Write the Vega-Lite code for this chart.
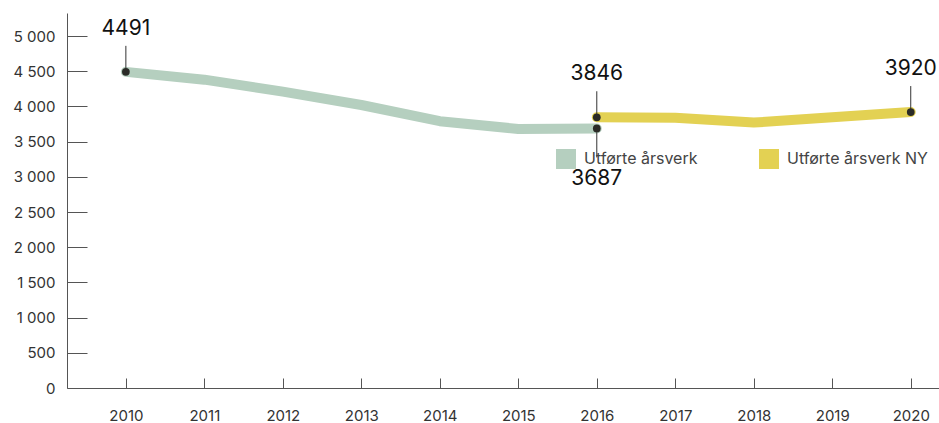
{
  "$schema": "https://vega.github.io/schema/vega-lite/v6.json",
  "width": 872,
  "height": 375,
  "autosize": {"type": "none"},
  "padding": {"left": 67, "top": 13, "right": 0, "bottom": 35},
  "background": "white",
  "config": {
    "view": {"stroke": null},
    "font": "Inter",
    "axis": {"grid": false, "domainColor": "#555", "tickColor": "#555", "labelColor": "#333", "labelFont": "Inter", "labelFontSize": 15, "title": null}
  },
  "datasets": {
    "series": [
      {"year": 2010, "value": 4491, "serie": "Utførte årsverk"},
      {"year": 2011, "value": 4380, "serie": "Utførte årsverk"},
      {"year": 2012, "value": 4210, "serie": "Utførte årsverk"},
      {"year": 2013, "value": 4020, "serie": "Utførte årsverk"},
      {"year": 2014, "value": 3790, "serie": "Utførte årsverk"},
      {"year": 2015, "value": 3680, "serie": "Utførte årsverk"},
      {"year": 2016, "value": 3687, "serie": "Utførte årsverk"},
      {"year": 2016, "value": 3846, "serie": "Utførte årsverk NY"},
      {"year": 2017, "value": 3840, "serie": "Utførte årsverk NY"},
      {"year": 2018, "value": 3770, "serie": "Utførte årsverk NY"},
      {"year": 2019, "value": 3845, "serie": "Utførte årsverk NY"},
      {"year": 2020, "value": 3920, "serie": "Utførte årsverk NY"}
    ],
    "labels": [
      {"year": 2010, "value": 4491, "label": "4491", "side": "above"},
      {"year": 2016, "value": 3846, "label": "3846", "side": "above"},
      {"year": 2016, "value": 3687, "label": "3687", "side": "below"},
      {"year": 2020, "value": 3920, "label": "3920", "side": "above"}
    ]
  },
  "encoding": {
    "x": {"field": "year", "type": "quantitative", "scale": {"domain": [2009.25, 2020.36], "nice": false, "zero": false},
      "axis": {"values": [2010, 2011, 2012, 2013, 2014, 2015, 2016, 2017, 2018, 2019, 2020], "format": "d", "tickSize": -10, "labelPadding": 30, "labelFlush": false}},
    "y": {"field": "value", "type": "quantitative", "scale": {"domain": [0, 5327], "nice": false},
      "axis": {"values": [0, 500, 1000, 1500, 2000, 2500, 3000, 3500, 4000, 4500, 5000], "tickSize": -20, "labelPadding": 32,
        "labelExpr": "replace(format(datum.value, ','), ',', ' ')"}}
  },
  "layer": [
    {
      "data": {"name": "series"},
      "mark": {"type": "line", "strokeWidth": 10, "strokeCap": "round", "strokeJoin": "round"},
      "encoding": {
        "color": {"field": "serie", "type": "nominal",
          "scale": {"domain": ["Utførte årsverk", "Utførte årsverk NY"], "range": ["#b5cfbf", "#e3d153"]},
          "legend": {"title": null, "orient": "none", "legendX": 489, "legendY": 136, "direction": "horizontal",
            "symbolType": "square", "symbolSize": 400, "symbolStrokeWidth": 0, "labelFontSize": 16, "labelColor": "#444",
            "labelFont": "Inter", "labelOffset": 8, "columnPadding": 61, "padding": 0,
            "encode": {"symbols": {"update": {"fill": {"scale": "color", "field": "value"}, "stroke": {"value": "transparent"}}}}}
        }
      }
    },
    {
      "data": {"name": "labels"},
      "transform": [{"filter": "datum.side == 'above'"}],
      "mark": {"type": "rule", "color": "#333", "strokeWidth": 1, "y2Offset": -26},
      "encoding": {"y2": {"field": "value"}}
    },
    {
      "data": {"name": "labels"},
      "transform": [{"filter": "datum.side == 'below'"}],
      "mark": {"type": "rule", "color": "#333", "strokeWidth": 1, "y2Offset": 29},
      "encoding": {"y2": {"field": "value"}}
    },
    {
      "data": {"name": "labels"},
      "mark": {"type": "point", "filled": true, "color": "#2b2b27", "opacity": 1, "size": 60},
      "encoding": {}
    },
    {
      "data": {"name": "labels"},
      "transform": [{"filter": "datum.side == 'above'"}],
      "mark": {"type": "text", "fontSize": 21, "color": "#111", "baseline": "middle", "align": "center", "yOffset": -43, "font": "Inter"},
      "encoding": {"text": {"field": "label"}}
    },
    {
      "data": {"name": "labels"},
      "transform": [{"filter": "datum.side == 'below'"}],
      "mark": {"type": "text", "fontSize": 21, "color": "#111", "baseline": "middle", "align": "center", "yOffset": 51, "font": "Inter"},
      "encoding": {"text": {"field": "label"}}
    }
  ]
}
